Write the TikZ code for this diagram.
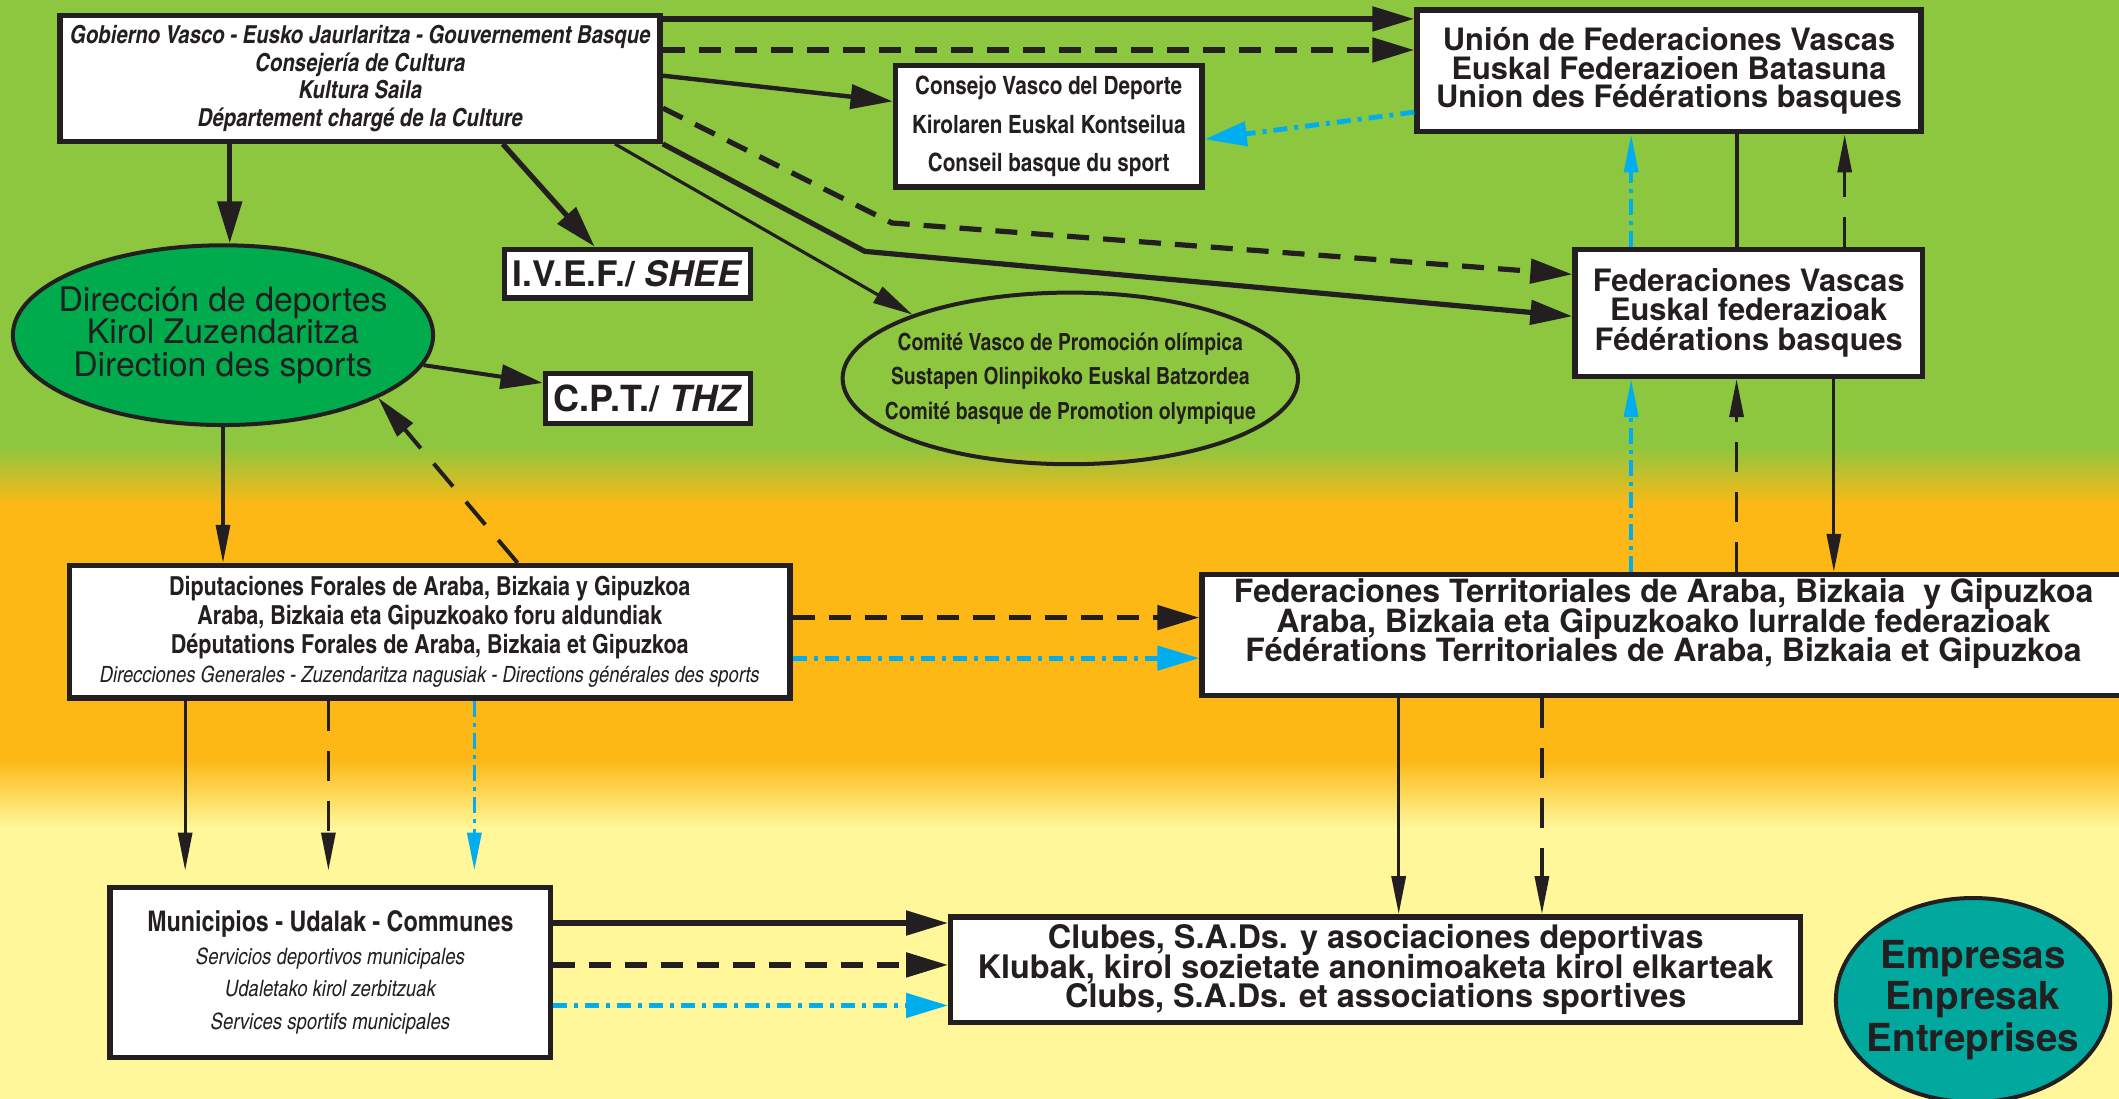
\documentclass[tikz,border=0pt]{standalone}
\usepackage{fontspec}
\setmainfont{TeX Gyre Heros}
\newfontfamily\cnfont{texgyreheroscn}[Extension=.otf, UprightFont=*-regular, BoldFont=*-bold, ItalicFont=*-italic, BoldItalicFont=*-bolditalic]
\usetikzlibrary{arrows.meta,shapes.geometric}
\definecolor{bggreen}{RGB}{141,198,63}
\definecolor{bgorange}{RGB}{253,184,22}
\definecolor{bgyellow}{RGB}{255,247,153}
\definecolor{dirgreen}{RGB}{0,171,78}
\definecolor{empteal}{RGB}{0,168,157}
\definecolor{ink}{RGB}{35,31,32}
\definecolor{skyblue}{RGB}{0,174,239}
\newlength\dpx
\setlength\dpx{0.6757pt}
\setlength\lineskiplimit{-20pt}

\begin{document}
\begin{tikzpicture}[x=0.6757pt, y=-0.6757pt,
	box/.style={draw=ink, fill=white, line width=2.7pt, inner sep=2pt, align=center, text=ink},
	oval/.style={ellipse, draw=ink, line width=2pt, inner sep=0pt, align=center, text=ink},
	big/.style={ink, line width=2.6pt, -{Triangle[length=21pt,width=12pt]}},
	bigdash/.style={big, dash pattern=on 11pt off 7pt},
	bigblue/.style={skyblue, line width=2.4pt, dash pattern=on 7pt off 3.5pt on 2pt off 3.5pt, -{Triangle[length=21pt,width=12pt]}},
	slim/.style={ink, line width=1.6pt, -{Triangle[length=19pt,width=7pt]}},
	slimdash/.style={slim, dash pattern=on 15pt off 10pt},
	slimblue/.style={skyblue, line width=1.8pt, dash pattern=on 8pt off 3pt on 2pt off 3pt, -{Triangle[length=19pt,width=7pt]}}]
	\useasboundingbox (0,0) rectangle (1568,813);
	% background bands
	\fill[bggreen] (0,0) rectangle (1568,331);
	\shade[top color=bggreen, bottom color=bgorange] (0,330) rectangle (1568,374);
	\fill[bgorange] (0,373) rectangle (1568,563);
	\shade[top color=bgorange, bottom color=bgyellow] (0,562) rectangle (1568,612);
	\fill[bgyellow] (0,611) rectangle (1568,813);
	% nodes
	\node[box, minimum width=444\dpx, minimum height=93\dpx, font=\cnfont\bfseries\itshape\fontsize{12.4}{13.8}\selectfont] (gob) at (266.5,58) {Gobierno Vasco - Eusko Jaurlaritza - Gouvernement Basque\\Consejería de Cultura\\Kultura Saila\\Département chargé de la Culture};
	\node[box, minimum width=373\dpx, minimum height=90\dpx, font=\bfseries\fontsize{15.4}{14.4}\selectfont] (union) at (1235,52.5) {Unión de Federaciones Vascas\\Euskal Federazioen Batasuna\\Union des Fédérations basques};
	\node[box, minimum width=227\dpx, minimum height=90\dpx, font=\cnfont\bfseries\fontsize{12.6}{19.4}\selectfont] (consejo) at (776,93.5) {Consejo Vasco del Deporte\\Kirolaren Euskal Kontseilua\\Conseil basque du sport};
	\node[box, minimum width=182\dpx, minimum height=36\dpx, font=\bfseries\fontsize{17.6}{18}\selectfont] (ivef) at (464.5,202.5) {I.V.E.F./ \textit{SHEE}};
	\node[box, minimum width=152\dpx, minimum height=37\dpx, font=\bfseries\fontsize{18}{18}\selectfont] (cpt) at (479.5,295) {C.P.T./ \textit{THZ}};
	\node[oval, fill=dirgreen, inner xsep=-10pt, minimum width=311\dpx, minimum height=133\dpx, font=\fontsize{16.9}{16.2}\selectfont] (direccion) at (165,248) {Dirección de deportes\\Kirol Zuzendaritza\\Direction des sports};
	\node[oval, inner xsep=-16pt, minimum width=337\dpx, minimum height=127\dpx, font=\cnfont\bfseries\fontsize{11.8}{17.2}\selectfont] (comite) at (792,280) {Comité Vasco de Promoción olímpica\\Sustapen Olinpikoko Euskal Batzordea\\Comité basque de Promotion olympique};
	\node[box, minimum width=257\dpx, minimum height=94\dpx, font=\bfseries\fontsize{15.4}{14.6}\selectfont] (fedvasc) at (1294,231.5) {Federaciones Vascas\\Euskal federazioak\\Fédérations basques};
	\node[box, minimum width=533\dpx, minimum height=98\dpx, font=\cnfont\bfseries\fontsize{13.1}{14.4}\selectfont] (diput) at (318,467.5) {Diputaciones Forales de Araba, Bizkaia y Gipuzkoa\\Araba, Bizkaia eta Gipuzkoako foru aldundiak\\Députations Forales de Araba, Bizkaia et Gipuzkoa\\{\mdseries\itshape\fontsize{11.2}{14.4}\selectfont Direcciones Generales - Zuzendaritza nagusiak - Directions générales des sports}};
	\node[box, minimum width=683\dpx, minimum height=85\dpx, font=\bfseries\fontsize{16}{14.9}\selectfont] (fedterr) at (1231,470) {Federaciones Territoriales de Araba, Bizkaia\ \ y Gipuzkoa\\Araba, Bizkaia eta Gipuzkoako lurralde federazioak\\Fédérations Territoriales de Araba, Bizkaia et Gipuzkoa\\[0pt]\mbox{}};
	\node[box, minimum width=326\dpx, minimum height=126\dpx, font=\cnfont\itshape\fontsize{11.3}{16.2}\selectfont] (muni) at (244.5,719.5) {{\upshape\bfseries\fontsize{14.2}{16.2}\selectfont Municipios - Udalak - Communes}\\Servicios deportivos municipales\\Udaletako kirol zerbitzuak\\Services sportifs municipales};
	\node[box, minimum width=629\dpx, minimum height=78\dpx, font=\bfseries\fontsize{16.2}{14.6}\selectfont] (clubes) at (1018,717.5) {Clubes, S.A.Ds. y asociaciones deportivas\\Klubak, kirol sozietate anonimoaketa kirol elkarteak\\Clubs, S.A.Ds. et associations sportives};
	\node[oval, fill=empteal, inner xsep=-6pt, minimum width=203\dpx, minimum height=151\dpx, font=\bfseries\fontsize{19.3}{20.6}\selectfont] (empresas) at (1460,740) {Empresas\\Enpresak\\Entreprises};
	% from the Basque government
	\draw[big] (gob.east |- 0,14) -- (union.west |- 0,14);
	\draw[bigdash] (gob.east |- 0,37) -- (union.west |- 0,37);
	\draw[big, line width=2.2pt] (gob.east |- 0,56) -- (consejo.west |- 0,75);
	\draw[bigdash] (gob.east |- 0,80) -- (660,165) -- (fedvasc.west |- 0,203);
	\draw[big] (gob.south east) -- (640,186) -- (fedvasc.west |- 0,234);
	\draw[slim, -{Triangle[length=20pt,width=9pt]}] (455,0 |- gob.south) -- (comite.158);
	\draw[big] (372,0 |- gob.south) -- (440,0 |- ivef.north);
	\draw[big] (170,0 |- gob.south) -- (170,0 |- direccion.north);
	\draw[big, line width=2pt] (direccion) -- (cpt);
	\draw[slim] (direccion.south) -- (direccion.south |- diput.north);
	\draw[slimdash, line width=2pt, -{Triangle[length=21pt,width=10pt]}] (383,0 |- diput.north) -- (direccion.-22);
	% federations
	\draw[ink, line width=2pt] (union.south -| 1285,0) -- (fedvasc.north -| 1285,0);
	\draw[slimdash] (fedvasc.north -| 1365,0) -- (union.south -| 1365,0);
	\draw[slimblue] (fedvasc.north -| 1207,0) -- (union.south -| 1207,0);
	\draw[slimblue] (fedterr.north -| 1207,0) -- (fedvasc.south -| 1207,0);
	\draw[slimdash] (fedterr.north -| 1285,0) -- (fedvasc.south -| 1285,0);
	\draw[slim] (fedvasc.south -| 1357,0) -- (fedterr.north -| 1357,0);
	\draw[bigblue] (union.west |- 0,83) -- (consejo.east |- 0,103);
	% provincial level
	\draw[bigdash] (diput.east |- 0,457) -- (fedterr.west |- 0,457);
	\draw[bigblue] (diput.east |- 0,487) -- (fedterr.west |- 0,487);
	\foreach \x/\s in {137/slim, 243/slimdash, 351/slimblue}
		\draw[\s, shorten >=7pt] (diput.south -| \x,0) -- (muni.north -| \x,0);
	\foreach \x/\s in {1035/slim, 1141/slimdash}
		\draw[\s] (fedterr.south -| \x,0) -- (clubes.north -| \x,0);
	% local level
	\foreach \y/\s in {683/big, 714/bigdash, 744/bigblue}
		\draw[\s] (muni.east |- 0,\y) -- (clubes.west |- 0,\y);
\end{tikzpicture}
\end{document}
